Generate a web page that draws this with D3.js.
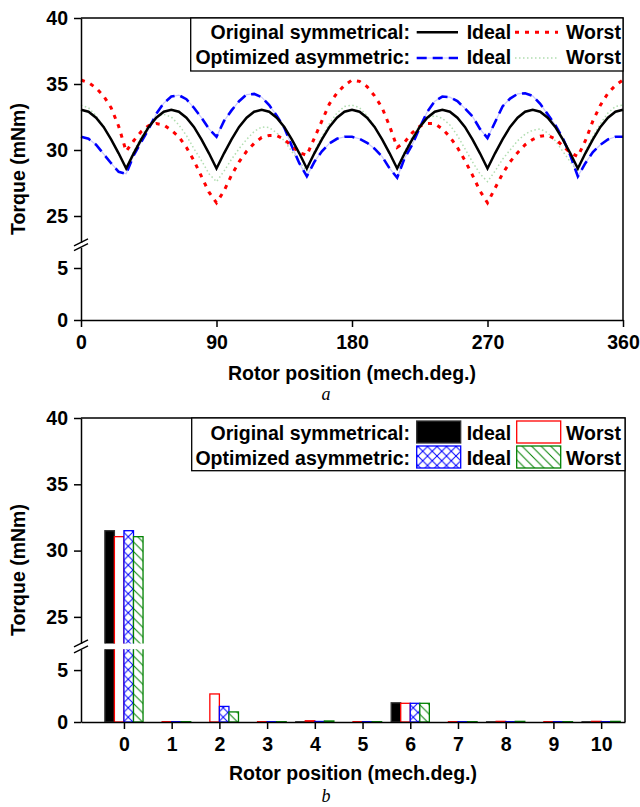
<!DOCTYPE html>
<html>
<head>
<meta charset="utf-8">
<script src="https://cdn.jsdelivr.net/npm/d3@7"></script>
<style>
body { margin: 0; background: #fff; }
text { font-family: "Liberation Sans", Arial, sans-serif; font-weight: bold; fill: #000; }
</style>
</head>
<body>
<svg width="640" height="807"></svg>
<script>
// ---- data: chart a (torque vs rotor position, every 5 deg) ----
var angles = d3.range(0, 361, 5);
var origIdeal = [33.05,32.9,32.45,31.75,30.8,29.75,28.6,29.75,30.8,31.75,32.45,32.9,
                 33.05,32.9,32.45,31.75,30.8,29.75,28.6,29.75,30.8,31.75,32.45,32.9,
                 33.05,32.9,32.45,31.75,30.8,29.75,28.6,29.75,30.8,31.75,32.45,32.9,
                 33.05,32.9,32.45,31.75,30.8,29.75,28.6,29.75,30.8,31.75,32.45,32.9,
                 33.05,32.9,32.45,31.75,30.8,29.75,28.6,29.75,30.8,31.75,32.45,32.9,
                 33.05,32.9,32.45,31.75,30.8,29.75,28.6,29.75,30.8,31.75,32.45,32.9,33.05];
var origWorst = [35.3,35.1,34.7,34.1,33.2,31.8,29.9,30.7,31.4,31.85,32.0,31.9,
                 31.5,31.0,30.2,29.2,28.0,26.8,26.0,26.9,28.1,29.1,29.9,30.5,
                 30.95,31.1,31.1,30.8,30.3,29.8,29.6,30.9,32.2,33.5,34.3,34.9,
                 35.3,35.2,34.8,34.1,33.2,31.8,30.2,30.6,31.3,31.8,32.0,32.0,
                 31.6,31.0,30.2,29.2,28.1,26.9,26.0,27.1,28.2,29.1,29.8,30.4,
                 30.8,31.05,31.1,30.85,30.3,29.8,29.5,30.7,32.2,33.4,34.3,34.9,35.3];
var optIdeal  = [31.0,30.85,30.4,29.7,29.0,28.35,28.2,29.6,30.6,31.6,32.75,33.55,
                 34.05,34.15,33.85,33.2,32.45,31.6,31.0,32.2,33.0,33.7,34.2,34.25,
                 34.0,33.4,32.6,31.7,30.3,29.0,28.0,29.1,29.9,30.5,30.85,31.0,
                 31.0,30.85,30.55,30.1,29.5,28.6,27.9,29.4,30.4,31.7,32.9,33.7,
                 34.05,34.0,33.7,33.15,32.55,31.6,30.9,32.1,33.3,33.9,34.25,34.3,
                 34.1,33.5,32.7,31.9,30.9,29.6,28.0,29.0,29.85,30.4,30.8,31.0,31.0];
var optWorst  = [33.4,33.2,32.6,31.8,30.8,29.7,28.6,29.9,31.0,31.9,32.5,32.7,
                 32.5,31.9,31.1,30.1,29.2,28.2,27.6,28.4,29.3,30.1,30.8,31.4,
                 31.75,31.7,31.3,30.7,29.9,29.1,28.4,29.9,31.0,32.0,32.8,33.3,
                 33.4,33.2,32.6,31.8,30.8,29.7,28.6,29.9,31.0,31.9,32.4,32.6,
                 32.4,31.9,31.1,30.1,29.1,28.2,27.6,28.4,29.3,30.0,30.7,31.2,
                 31.5,31.6,31.3,30.7,29.9,29.1,28.4,29.9,31.0,32.0,32.8,33.3,33.4];
var angleTicks = [0, 90, 180, 270, 360];

// ---- data: chart b (harmonic spectrum) ----
var orders = [0, 1, 2, 3, 4, 5, 6, 7, 8, 9, 10];
var barOrigIdeal = [31.5, 0, 0, 0, 0.02, 0, 1.85, 0, 0.02, 0, 0.02];
var barOrigWorst = [31.05, 0.03, 2.7, 0.03, 0.12, 0.03, 1.8, 0.03, 0.06, 0.03, 0.06];
var barOptIdeal  = [31.5, 0.03, 1.5, 0.03, 0.05, 0.03, 1.8, 0.03, 0.03, 0.03, 0.03];
var barOptWorst  = [31.05, 0.03, 0.97, 0.03, 0.1, 0.03, 1.8, 0.03, 0.06, 0.03, 0.06];

var hiTicks = [25, 30, 35, 40];
var loTicks = [0, 5];

var svg = d3.select("svg");
var defs = svg.append("defs");

var xhatch = defs.append("pattern").attr("id", "xhatch")
    .attr("patternUnits", "userSpaceOnUse").attr("width", 9.5).attr("height", 9.5);
xhatch.append("rect").attr("width", 9.5).attr("height", 9.5).attr("fill", "#fff");
xhatch.append("path").attr("d", "M0,0L9.5,9.5M9.5,0L0,9.5")
    .attr("stroke", "#0000ff").attr("stroke-width", 1);

var dhatch = defs.append("pattern").attr("id", "dhatch")
    .attr("patternUnits", "userSpaceOnUse").attr("width", 9.5).attr("height", 9.5);
dhatch.append("rect").attr("width", 9.5).attr("height", 9.5).attr("fill", "#fff");
dhatch.append("path").attr("d", "M0,0L9.5,9.5M-1,8.5L1,10.5M8.5,-1L10.5,1")
    .attr("stroke", "#008000").attr("stroke-width", 1);

// helper: left axis with break
function brokenAxis(yHi, yLo, x0) {
  var ga = svg.append("g").attr("transform", "translate(" + x0 + ",0)");
  ga.append("g").call(d3.axisLeft(yHi).tickValues(hiTicks).tickFormat(d3.format("d"))
    .tickSize(7).tickSizeOuter(0).tickPadding(6));
  ga.append("g").call(d3.axisLeft(yLo).tickValues(loTicks).tickFormat(d3.format("d"))
    .tickSize(7).tickSizeOuter(0).tickPadding(6));
  ga.selectAll("path, line").attr("stroke", "#000").attr("stroke-width", 1.5);
  ga.selectAll("text").style("font-size", "19.5px");
  [yHi.range()[0], yLo.range()[1]].forEach(function(y) {
    ga.append("line").attr("x1", -7).attr("x2", 7).attr("y1", y + 3.5).attr("y2", y - 3.5)
      .attr("stroke", "#000").attr("stroke-width", 1.3);
  });
}

function frame(x0, x1, yTop, yBot) {
  svg.append("path").attr("d", "M" + x0 + "," + yTop + "H" + x1 + "V" + yBot)
    .attr("fill", "none").attr("stroke", "#000").attr("stroke-width", 1.5);
}

function yTitle(cy) {
  svg.append("text").attr("transform", "translate(25," + cy + ") rotate(-90)")
    .attr("text-anchor", "middle").style("font-size", "19.5px").text("Torque (mNm)");
}

// ================= chart a =================
var xA = d3.scaleLinear().domain([0, 360]).range([81, 623]);
var yAHi = d3.scaleLinear().domain([23, 40]).range([242.4, 18]);
var yALo = d3.scaleLinear().domain([0, 7]).range([320, 247.2]);

var line = d3.line().x(function(d, i) { return xA(angles[i]); }).y(function(d) { return yAHi(d); });

var redDash = "4,6";
var gl = svg.append("g");
gl.append("path").attr("d", line(optWorst)).attr("fill", "none")
  .attr("stroke", "#8fcf8f").attr("stroke-width", 1.5).attr("stroke-dasharray", "1.5,2.5").attr("opacity", 0.7);
gl.append("path").attr("d", line(optIdeal)).attr("fill", "none")
  .attr("stroke", "#c8c8ff").attr("stroke-width", 1.2);
gl.append("path").attr("d", line(optIdeal)).attr("fill", "none")
  .attr("stroke", "#0000ff").attr("stroke-width", 2.6).attr("stroke-dasharray", "10,6");
gl.append("path").attr("d", line(origWorst)).attr("fill", "none")
  .attr("stroke", "#ff0000").attr("stroke-width", 3).attr("stroke-dasharray", redDash);
gl.append("path").attr("d", line(origIdeal)).attr("fill", "none")
  .attr("stroke", "#000").attr("stroke-width", 2.5);

frame(81, 623, 18, 320);
var gxA = svg.append("g").attr("transform", "translate(0,320)")
  .call(d3.axisBottom(xA).tickValues(angleTicks).tickSize(7).tickSizeOuter(0).tickPadding(8));
gxA.selectAll("path, line").attr("stroke", "#000").attr("stroke-width", 1.5);
gxA.selectAll("text").style("font-size", "19.5px");
brokenAxis(yAHi, yALo, 81);
yTitle(169);
svg.append("text").attr("x", 352).attr("y", 380).attr("text-anchor", "middle")
  .style("font-size", "19.5px").text("Rotor position (mech.deg.)");
svg.append("text").attr("x", 326).attr("y", 400).attr("text-anchor", "middle")
  .style("font-family", "'Liberation Serif', 'Times New Roman', serif").style("font-style", "italic")
  .style("font-weight", "normal").style("font-size", "18px").text("a");

// legend a
var la = svg.append("g");
la.append("rect").attr("x", 190.7).attr("y", 18).attr("width", 432.3).attr("height", 53)
  .attr("fill", "#fff").attr("stroke", "#000").attr("stroke-width", 1.3);
la.append("text").attr("x", 410).attr("y", 39).attr("text-anchor", "end").style("font-size", "19.5px").text("Original symmetrical:");
la.append("text").attr("x", 410).attr("y", 64).attr("text-anchor", "end").style("font-size", "19.5px").text("Optimized asymmetric:");
la.append("line").attr("x1", 416.7).attr("x2", 458).attr("y1", 32.3).attr("y2", 32.3)
  .attr("stroke", "#000").attr("stroke-width", 2.5);
la.append("line").attr("x1", 515).attr("x2", 558).attr("y1", 32.3).attr("y2", 32.3)
  .attr("stroke", "#ff0000").attr("stroke-width", 3).attr("stroke-dasharray", redDash);
la.append("line").attr("x1", 416.7).attr("x2", 458).attr("y1", 58).attr("y2", 58)
  .attr("stroke", "#c8c8ff").attr("stroke-width", 1.2);
la.append("line").attr("x1", 416.7).attr("x2", 458).attr("y1", 58).attr("y2", 58)
  .attr("stroke", "#0000ff").attr("stroke-width", 2.6).attr("stroke-dasharray", "10,6");
la.append("line").attr("x1", 515).attr("x2", 558).attr("y1", 58).attr("y2", 58)
  .attr("stroke", "#8fcf8f").attr("stroke-width", 1.5).attr("stroke-dasharray", "1.5,2.5").attr("opacity", 0.7);
[39, 64].forEach(function(y) {
  la.append("text").attr("x", 466.7).attr("y", y).style("font-size", "19.5px").text("Ideal");
  la.append("text").attr("x", 566).attr("y", y).style("font-size", "19.5px").text("Worst");
});

// ================= chart b =================
var xB = d3.scaleLinear().domain([-0.9, 10.5]).range([81, 625]);
var yBHi = d3.scaleLinear().domain([23, 40]).range([643.4, 418]);
var yBLo = d3.scaleLinear().domain([0, 7]).range([722, 649.3]);

defs.append("clipPath").attr("id", "clipHi").append("rect")
  .attr("x", 81).attr("y", 418).attr("width", 544).attr("height", 643.4 - 418);
defs.append("clipPath").attr("id", "clipLo").append("rect")
  .attr("x", 81).attr("y", 649.3).attr("width", 544).attr("height", 722 - 649.3 + 2);

var barSeries = [
  { vals: barOrigIdeal, fill: "#000", stroke: "#333" },
  { vals: barOrigWorst, fill: "#fff", stroke: "#ff0000" },
  { vals: barOptIdeal,  fill: "url(#xhatch)", stroke: "#0000ff" },
  { vals: barOptWorst,  fill: "url(#dhatch)", stroke: "#008000" }
];
var bw = xB(0.2) - xB(0);
var gHi = svg.append("g").attr("clip-path", "url(#clipHi)");
var gLo = svg.append("g").attr("clip-path", "url(#clipLo)");
barSeries.forEach(function(s, k) {
  orders.forEach(function(o, i) {
    var v = s.vals[i];
    var x = xB(o - 0.4 + 0.2 * k);
    if (v > 0) {
      var top = yBLo(Math.min(v, 8));
      gLo.append("rect").attr("x", x).attr("y", top).attr("width", bw).attr("height", yBLo(0) - top)
        .attr("fill", s.fill).attr("stroke", s.stroke).attr("stroke-width", 1.3);
    }
    if (v > 23) {
      gHi.append("rect").attr("x", x).attr("y", yBHi(v)).attr("width", bw).attr("height", yBHi(22) - yBHi(v))
        .attr("fill", s.fill).attr("stroke", s.stroke).attr("stroke-width", 1.3);
    }
  });
});

frame(81, 625, 418, 722);
var gxB = svg.append("g").attr("transform", "translate(0,722)")
  .call(d3.axisBottom(xB).tickValues(orders).tickSize(7).tickSizeOuter(0).tickPadding(8));
gxB.selectAll("path, line").attr("stroke", "#000").attr("stroke-width", 1.5);
gxB.selectAll("text").style("font-size", "19.5px");
brokenAxis(yBHi, yBLo, 81);
yTitle(570);
svg.append("text").attr("x", 353).attr("y", 780).attr("text-anchor", "middle")
  .style("font-size", "19.5px").text("Rotor position (mech.deg.)");
svg.append("text").attr("x", 326).attr("y", 802).attr("text-anchor", "middle")
  .style("font-family", "'Liberation Serif', 'Times New Roman', serif").style("font-style", "italic")
  .style("font-weight", "normal").style("font-size", "18px").text("b");

// legend b
var lb = svg.append("g");
lb.append("rect").attr("x", 191.7).attr("y", 418).attr("width", 433.3).attr("height", 52.7)
  .attr("fill", "#fff").attr("stroke", "#000").attr("stroke-width", 1.3);
lb.append("text").attr("x", 410).attr("y", 440).attr("text-anchor", "end").style("font-size", "19.5px").text("Original symmetrical:");
lb.append("text").attr("x", 410).attr("y", 465).attr("text-anchor", "end").style("font-size", "19.5px").text("Optimized asymmetric:");
[[416.7, 421, barSeries[0]], [516.7, 421, barSeries[1]], [416.7, 446, barSeries[2]], [516.7, 446, barSeries[3]]]
  .forEach(function(d) {
    lb.append("rect").attr("x", d[0]).attr("y", d[1]).attr("width", 44).attr("height", 22)
      .attr("fill", d[2].fill).attr("stroke", d[2].stroke).attr("stroke-width", 1.3);
  });
[440, 465].forEach(function(y) {
  lb.append("text").attr("x", 466.7).attr("y", y).style("font-size", "19.5px").text("Ideal");
  lb.append("text").attr("x", 566).attr("y", y).style("font-size", "19.5px").text("Worst");
});
</script>
</body>
</html>
